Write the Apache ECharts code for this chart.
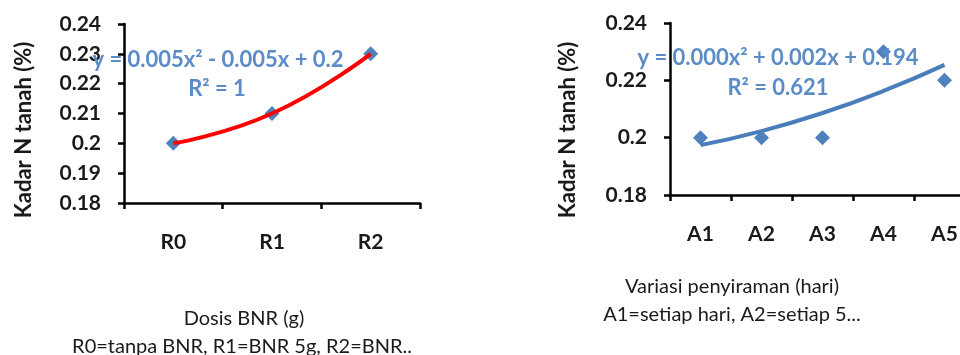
<!DOCTYPE html>
<html>
<head>
<meta charset="utf-8">
<script src="https://cdn.jsdelivr.net/npm/echarts@6/dist/echarts.min.js"></script>
<style>
  html, body { margin: 0; padding: 0; background: #fff; overflow: hidden; }
  #chart { width: 1000px; height: 355px; }
</style>
</head>
<body>
<div id="chart"></div>
<script>
// data
var doseCats = ["R0", "R1", "R2"];
var doseN = [0.2, 0.21, 0.23];
var doseTrend = [0.2, 0.21, 0.23];

var waterCats = ["A1", "A2", "A3", "A4", "A5"];
var waterN = [0.2, 0.2, 0.2, 0.23, 0.22];
var waterTrend = [0.1974, 0.2023, 0.2086, 0.2163, 0.2254];

var FONT = "Lato";
var BLUE = "#4f81bd";
var EQ = "#5b8cc8";

// the page is wider than the window so the right plot can run past the edge
var myChart = echarts.init(document.getElementById("chart"));

function xAxisCfg(idx, cats) {
    return {
        type: "category",
        gridIndex: idx,
        data: cats,
        boundaryGap: true,
        axisLine: { lineStyle: { color: "#000", width: 2.5 } },
        axisTick: { show: true, length: 6, lineStyle: { color: "#000", width: 2.5 } },
        axisLabel: { color: "#1a1a1a", fontFamily: FONT, fontWeight: "bold", fontSize: 21, margin: 29 },
        splitLine: { show: false }
    };
}

function yAxisCfg(idx, step) {
    return {
        type: "value",
        gridIndex: idx,
        min: 0.18,
        max: 0.24,
        interval: step,
        axisLine: { show: true, lineStyle: { color: "#000", width: 2.5 } },
        axisTick: { show: true, length: 6, lineStyle: { color: "#000", width: 2.5 } },
        axisLabel: { color: "#1a1a1a", fontFamily: FONT, fontWeight: "bold", fontSize: 21, margin: 23 },
        splitLine: { show: false }
    };
}

var option = {
    animation: false,
    grid: [
        { left: 124, top: 24, width: 296, bottom: 152 },
        { left: 670, top: 23, width: 305, bottom: 160 }
    ],
    xAxis: [xAxisCfg(0, doseCats), xAxisCfg(1, waterCats)],
    yAxis: [yAxisCfg(0, 0.01), yAxisCfg(1, 0.02)],
    series: [
        {
            type: "line",
            xAxisIndex: 0, yAxisIndex: 0,
            data: doseN,
            symbol: "diamond",
            symbolSize: 15,
            itemStyle: { color: BLUE },
            lineStyle: { width: 0 },
            z: 2
        },
        {
            type: "line",
            xAxisIndex: 0, yAxisIndex: 0,
            data: doseTrend,
            smooth: true,
            showSymbol: false,
            lineStyle: { color: "#ff0000", width: 4 },
            z: 3
        },
        {
            type: "line",
            xAxisIndex: 1, yAxisIndex: 1,
            data: waterN,
            symbol: "diamond",
            symbolSize: 15,
            itemStyle: { color: BLUE },
            lineStyle: { width: 0 },
            z: 2
        },
        {
            type: "line",
            xAxisIndex: 1, yAxisIndex: 1,
            data: waterTrend,
            smooth: true,
            showSymbol: false,
            lineStyle: { color: "#4a7ebb", width: 4 },
            z: 3
        }
    ],
    graphic: [
        // trendline equations
        { type: "text", x: 218, y: 60, z: 10,
          style: { text: "y = 0.005x² - 0.005x + 0.2", fill: EQ, font: "bold 22px Lato", align: "center", verticalAlign: "middle" } },
        { type: "text", x: 217, y: 89, z: 10,
          style: { text: "R² = 1", fill: EQ, font: "bold 22px Lato", align: "center", verticalAlign: "middle" } },
        { type: "text", x: 778, y: 58, z: 10,
          style: { text: "y = 0.000x² + 0.002x + 0.194", fill: EQ, font: "bold 22px Lato", align: "center", verticalAlign: "middle" } },
        { type: "text", x: 778, y: 88, z: 10,
          style: { text: "R² = 0.621", fill: EQ, font: "bold 22px Lato", align: "center", verticalAlign: "middle" } },
        // y axis names
        { type: "text", x: 24, y: 130, rotation: Math.PI / 2,
          style: { text: "Kadar N tanah (%)", fill: "#1a1a1a", font: "bold 22px Lato", align: "center", verticalAlign: "middle" } },
        { type: "text", x: 568, y: 130, rotation: Math.PI / 2,
          style: { text: "Kadar N tanah (%)", fill: "#1a1a1a", font: "bold 22px Lato", align: "center", verticalAlign: "middle" } },
        // x axis names
        { type: "text", x: 244, y: 319,
          style: { text: "Dosis BNR (g)", fill: "#1a1a1a", font: "20px Lato", align: "center", verticalAlign: "middle" } },
        { type: "text", x: 242, y: 347,
          style: { text: "R0=tanpa BNR, R1=BNR 5g, R2=BNR..", fill: "#1a1a1a", font: "20px Lato", align: "center", verticalAlign: "middle" } },
        { type: "text", x: 732, y: 287,
          style: { text: "Variasi penyiraman (hari)", fill: "#1a1a1a", font: "20px Lato", align: "center", verticalAlign: "middle" } },
        { type: "text", x: 732, y: 315,
          style: { text: "A1=setiap hari, A2=setiap 5...", fill: "#1a1a1a", font: "20px Lato", align: "center", verticalAlign: "middle" } }
    ]
};

myChart.setOption(option);
</script>
</body>
</html>
